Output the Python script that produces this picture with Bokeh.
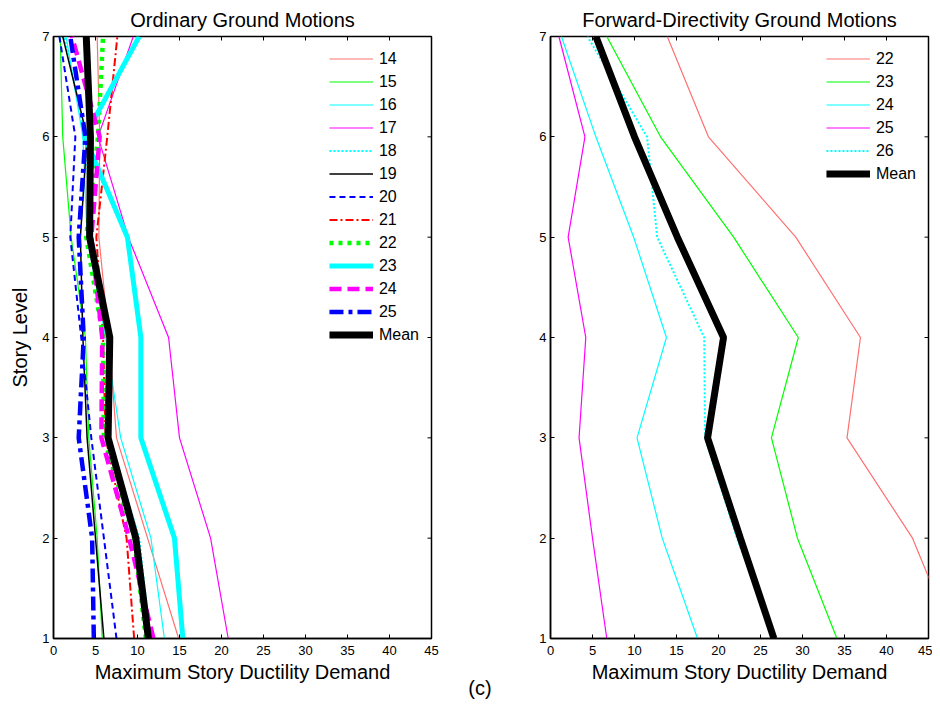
import math
from bokeh.plotting import figure
from bokeh.models import Range1d, FixedTicker, Legend, LegendItem, Div
from bokeh.layouts import row, column
from bokeh.embed import file_html
from bokeh.resources import INLINE

FONT = "Liberation Sans"

# ---------------- data (values listed from story 1 up to story 7) ----------------
stories = [1, 2, 3, 4, 5, 6, 7]
x_ticks = [0, 5, 10, 15, 20, 25, 30, 35, 40, 45]
y_ticks = [1, 2, 3, 4, 5, 6, 7]

# Ordinary ground motions
ord_labels = ["14", "15", "16", "17", "18", "19", "20", "21", "22", "23", "24", "25", "Mean"]
ord_14 = [14.9, 11.2, 7.5, 6.6, 5.4, 5.5, 5.2]
ord_15 = [5.8, 5.2, 4.2, 3.8, 2.1, 1.1, 0.8]
ord_16 = [13.2, 11.6, 8.0, 6.2, 4.0, 3.5, 1.5]
ord_17 = [20.8, 18.7, 15.0, 13.7, 8.9, 5.3, 9.5]
ord_18 = [11.5, 10.2, 6.6, 6.9, 4.5, 3.8, 1.3]
ord_19 = [6.0, 5.0, 4.0, 3.5, 3.2, 4.0, 1.1]
ord_20 = [7.5, 6.0, 4.5, 3.3, 2.0, 2.6, 0.7]
ord_21 = [9.6, 8.7, 6.2, 5.9, 5.1, 6.4, 7.6]
ord_22 = [11.0, 9.6, 6.0, 5.9, 3.9, 5.3, 5.9]
ord_23 = [15.4, 14.4, 10.4, 10.4, 8.8, 3.7, 10.2]
ord_24 = [11.9, 9.0, 5.7, 5.8, 4.5, 5.5, 2.2]
ord_25 = [4.8, 4.6, 3.0, 3.6, 3.0, 3.8, 2.0]
ord_mean = [11.3, 9.8, 6.5, 6.7, 4.3, 4.4, 3.9]

# Forward-directivity ground motions
fwd_labels = ["22", "23", "24", "25", "26", "Mean"]
fwd_22 = [48.0, 43.1, 35.3, 36.9, 29.2, 18.8, 13.9]
fwd_23 = [34.1, 29.4, 26.3, 29.5, 21.8, 13.1, 6.7]
fwd_24 = [17.5, 13.3, 10.3, 13.8, 9.9, 5.4, 1.3]
fwd_25 = [6.7, 5.0, 3.4, 4.2, 2.1, 4.1, 1.0]
fwd_26 = [26.7, 22.2, 18.4, 18.3, 12.7, 11.5, 4.4]
fwd_mean = [26.6, 22.6, 18.7, 20.6, 15.1, 10.0, 5.4]

ord_series = [ord_14, ord_15, ord_16, ord_17, ord_18, ord_19, ord_20,
              ord_21, ord_22, ord_23, ord_24, ord_25, ord_mean]
fwd_series = [fwd_22, fwd_23, fwd_24, fwd_25, fwd_26, fwd_mean]

# ---------------- styles ----------------
ord_styles = [
    ("#FF7070", 1.2, "solid"),
    ("#00FF00", 1.2, "solid"),
    ("#00FFFF", 1.2, "solid"),
    ("#FF00FF", 1.2, "solid"),
    ("#00FFFF", 2, "2 2"),
    ("#000000", 1.5, "solid"),
    ("#0000FF", 2, "6 4"),
    ("#FF0000", 2, "8 3 2 3"),
    ("#00FF00", 4.5, "4 5"),
    ("#00FFFF", 5, "solid"),
    ("#FF00FF", 4.5, "12 6"),
    ("#0000FF", 4.5, "14 5 4 5"),
    ("#000000", 7, "solid"),
]
fwd_styles = [
    ("#FF7070", 1.2, "solid"),
    ("#00FF00", 1.2, "solid"),
    ("#00FFFF", 1.2, "solid"),
    ("#FF00FF", 1.2, "solid"),
    ("#00FFFF", 2, "2 2"),
    ("#000000", 7, "solid"),
]


def style_axis(ax):
    ax.major_tick_in = 4
    ax.major_tick_out = 0
    ax.minor_tick_in = 0
    ax.minor_tick_out = 0
    ax.axis_line_color = "black"
    ax.axis_line_width = 1.5
    ax.major_tick_line_color = "black"
    ax.major_label_text_font = FONT
    ax.major_label_text_color = "black"
    ax.major_label_text_font_size = "13px"
    ax.axis_label_text_font = FONT
    ax.axis_label_text_font_style = "normal"
    ax.axis_label_text_font_size = "20px"
    ax.axis_label_text_color = "black"


def make_panel(title, labels, series, styles, ylabel, mb_left, mb_right):
    p = figure(frame_width=378, frame_height=602,
               x_range=Range1d(x_ticks[0], x_ticks[-1]),
               y_range=Range1d(y_ticks[0], y_ticks[-1]),
               output_backend="svg", toolbar_location=None,
               min_border_left=mb_left, min_border_right=mb_right,
               min_border_top=35, min_border_bottom=50,
               background_fill_color="white", border_fill_color="white")
    p.outline_line_color = "black"
    p.outline_line_width = 1.5
    p.grid.visible = False

    p.title.text = title
    p.title.align = "center"
    p.title.text_font = FONT
    p.title.text_font_size = "20px"
    p.title.text_font_style = "normal"
    p.title.text_color = "black"
    p.title.standoff = 12

    p.xaxis.ticker = FixedTicker(ticks=x_ticks)
    p.yaxis.ticker = FixedTicker(ticks=y_ticks)
    style_axis(p.xaxis[0])
    style_axis(p.yaxis[0])
    p.xaxis.axis_label = "Maximum Story Ductility Demand"
    p.xaxis.major_label_standoff = 7
    p.xaxis.axis_label_standoff = 3
    p.yaxis.major_label_standoff = 4
    if ylabel:
        p.yaxis.axis_label = ylabel
        p.yaxis.axis_label_standoff = 8

    # inward tick marks on the top and right edges of the box (clipped to the frame)
    p.scatter(x=x_ticks, y=[y_ticks[-1]] * len(x_ticks), marker="dash",
              angle=math.pi / 2, size=8, line_color="black", line_width=1)
    p.scatter(x=[x_ticks[-1]] * len(y_ticks), y=y_ticks, marker="dash",
              size=8, line_color="black", line_width=1)

    items = []
    for lab, vals, (col, w, dash) in zip(labels, series, styles):
        r = p.line(x=vals, y=stories, line_color=col, line_width=w, line_dash=dash)
        items.append(LegendItem(label=lab, renderers=[r]))

    leg = Legend(items=items, location="top_right")
    leg.label_text_font = FONT
    leg.label_text_font_size = "16px"
    leg.label_text_color = "black"
    leg.glyph_width = 44
    leg.glyph_height = 21
    leg.label_height = 21
    leg.label_standoff = 6
    leg.spacing = 2
    leg.padding = 0
    leg.margin = 12
    leg.border_line_color = None
    leg.background_fill_alpha = 0
    p.add_layout(leg)
    return p


p1 = make_panel("Ordinary Ground Motions", ord_labels, ord_series, ord_styles,
                "Story Level", 53, 68)
p2 = make_panel("Forward-Directivity Ground Motions", fwd_labels, fwd_series, fwd_styles,
                None, 51, 4)

caption = Div(text="(c)", width=40, height=20, margin=(-10, 0, 0, 460),
              styles={"font-family": FONT, "font-size": "20px", "line-height": "20px",
                      "text-align": "center", "color": "black"})

layout = column(row(p1, p2), caption)
open("out.html", "w").write(file_html(layout, INLINE))
